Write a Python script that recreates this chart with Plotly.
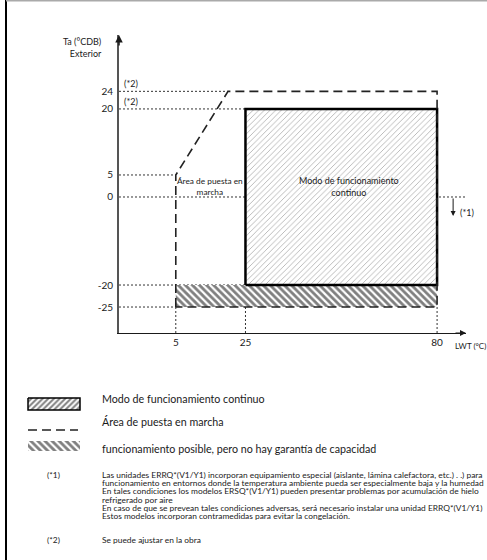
import plotly.graph_objects as go

# ---- operating range data (LWT = leaving water temperature, Ta = outdoor air) ----
lwt_ticks = [5, 25, 80]
ta_ticks = [24, 20, 5, 0, -20, -25]

# continuous operation envelope
cont_lwt = [25, 80, 80, 25, 25]
cont_ta = [-20, -20, 20, 20, -20]

# start-up area outline
start_lwt = [5, 5, 20, 80, 80, 5]
start_ta = [-25, 5, 24, 24, -25, -25]

# operation possible, capacity not guaranteed
band_lwt = [5, 80, 80, 5, 5]
band_ta = [-25, -25, -20, -20, -25]

# guide lines: (Ta level, LWT where the guide stops)
h_guides = [(24, 20), (20, 25), (5, 5), (0, None), (-20, 25), (-25, 5)]
# (LWT position, Ta where the guide stops)
v_guides = [(5, -25), (25, -20), (80, -25)]

W, H = 487, 560
X_MIN, X_MAX = -11.3, 88.3
Y_MIN, Y_MAX = -30.9, 36.8
FONT = "Lato"
INK = "#1a1a1a"


def px(x):
    return x / W


def py(y):
    return 1 - y / H


fig = go.Figure()

# dotted guide lines
gx, gy = [], []
for ta, stop in h_guides:
    gx += [X_MIN, X_MAX if stop is None else stop, None]
    gy += [ta, ta, None]
for lwt, stop in v_guides:
    gx += [lwt, lwt, None]
    gy += [Y_MIN, stop, None]
fig.add_trace(go.Scatter(x=gx, y=gy, mode="lines", hoverinfo="skip",
                         line=dict(color="#333", width=1, dash="2px,2px")))

# hatched band: possible, no capacity guarantee
fig.add_trace(go.Scatter(x=band_lwt, y=band_ta, mode="lines", fill="toself",
                         line=dict(width=0), fillcolor="white",
                         fillpattern=dict(shape="\\", fgcolor="#000", bgcolor="white",
                                          size=5, solidity=0.55)))

# continuous operation rectangle
fig.add_trace(go.Scatter(x=cont_lwt, y=cont_ta, mode="lines", fill="toself",
                         line=dict(color="#000", width=2.5), fillcolor="white",
                         fillpattern=dict(shape="/", fgcolor="#444", bgcolor="white",
                                          size=4, solidity=0.15, fgopacity=0.6)))

# start-up area dashed outline
fig.add_trace(go.Scatter(x=start_lwt, y=start_ta, mode="lines",
                         line=dict(color="#222", width=1.6, dash="9px,5px")))

# ---- legend swatches on a full-page pixel axis pair ----
sw_box = dict(x=[28, 80, 80, 28, 28], y=[398, 398, 410, 410, 398])
sw_band = dict(x=[28, 80, 80, 28, 28], y=[441, 441, 451, 451, 441])
fig.add_trace(go.Scatter(x=sw_box["x"], y=sw_box["y"], xaxis="x2", yaxis="y2",
                         mode="lines", fill="toself", fillcolor="white",
                         line=dict(color="#000", width=1.5),
                         fillpattern=dict(shape="/", fgcolor="#000", bgcolor="white",
                                          size=4, solidity=0.5)))
fig.add_trace(go.Scatter(x=sw_band["x"], y=sw_band["y"], xaxis="x2", yaxis="y2",
                         mode="lines", fill="toself", fillcolor="white",
                         line=dict(width=0),
                         fillpattern=dict(shape="\\", fgcolor="#000", bgcolor="white",
                                          size=5, solidity=0.55)))
fig.add_trace(go.Scatter(x=[28, 78], y=[430, 430], xaxis="x2", yaxis="y2",
                         mode="lines", line=dict(color="#222", width=1.6, dash="9px,5px")))

ann = []


def text(x, y, s, size, xanchor="left", yanchor="middle", align="left", **kw):
    ann.append(dict(x=x, y=y, text=s, showarrow=False, xanchor=xanchor,
                    yanchor=yanchor, align=align,
                    font=dict(family=FONT, size=size, color=INK), **kw))


# axis titles
text(px(104), py(47), "Ta (°CDB)<br>Exterior", 9, xanchor="right", align="right",
     xref="paper", yref="paper")
text(px(453), py(346), "LWT (°C)", 8, xref="paper", yref="paper")

# region labels
text(14.9, 2.4, "Área de puesta en<br>marcha", 8.3, xanchor="center", align="center",
     xref="x", yref="y")
text(54.6, 2.4, "Modo de funcionamiento<br>continuo", 9, xanchor="center", align="center",
     xref="x", yref="y")

# adjustable limits
text(px(122), 24, "(*2)", 9, yanchor="bottom", xref="paper", yref="y")
text(px(122), 20, "(*2)", 9, yanchor="bottom", xref="paper", yref="y")

# low ambient note
ann.append(dict(x=84.6, y=-4.3, ax=84.6, ay=0, axref="x", ayref="y", xref="x", yref="y",
                showarrow=True, arrowhead=2, arrowsize=1, arrowwidth=1, arrowcolor=INK,
                text=""))
text(px(458), py(212), "(*1)", 9, xref="paper", yref="paper")

# axis arrowheads
ann.append(dict(x=px(119), y=py(35), xref="paper", yref="paper", ax=0, ay=12,
                showarrow=True, arrowhead=2, arrowsize=1, arrowwidth=1.5,
                arrowcolor=INK, text=""))
ann.append(dict(x=px(466), y=py(333), xref="paper", yref="paper", ax=-12, ay=0,
                showarrow=True, arrowhead=2, arrowsize=1, arrowwidth=1.2,
                arrowcolor=INK, text=""))

# legend texts
text(px(100), py(398), "Modo de funcionamiento continuo", 10.7, xref="paper", yref="paper")
text(px(100), py(421), "Área de puesta en marcha", 10.7, xref="paper", yref="paper")
text(px(100), py(448), "funcionamiento posible, pero no hay garantía de capacidad", 10.7,
     xref="paper", yref="paper")

# footnotes
note1 = [
    "Las unidades ERRQ*(V1/Y1) incorporan equipamiento especial (aislante, lámina calefactora, etc.) . .) para",
    "funcionamiento en entornos donde la temperatura ambiente pueda ser especialmente baja y la humedad",
    "En tales condiciones los modelos ERSQ*(V1/Y1) pueden presentar problemas por acumulación de hielo",
    "refrigerado por aire",
    "En caso de que se prevean tales condiciones adversas, será necesario instalar una unidad ERRQ*(V1/Y1)",
    "Estos modelos incorporan contramedidas para evitar la congelación.",
]
text(px(45), py(475), "(*1)", 8.4, xref="paper", yref="paper")
for i, line in enumerate(note1):
    text(px(100), py(475 + i * 8.2), line, 8.4, xref="paper", yref="paper")
text(px(45), py(540), "(*2)", 8.4, xref="paper", yref="paper")
text(px(100), py(540), "Se puede ajustar en la obra", 8.4, xref="paper", yref="paper")

fig.update_layout(
    width=W, height=H, margin=dict(l=0, r=0, t=0, b=0), autosize=False,
    paper_bgcolor="white", plot_bgcolor="rgba(0,0,0,0)", showlegend=False,
    font=dict(family=FONT, size=10, color=INK),
    annotations=ann,
    xaxis=dict(domain=[px(119), px(466)], range=[X_MIN, X_MAX], anchor="y",
               tickvals=lwt_ticks, ticktext=[str(v) for v in lwt_ticks],
               showgrid=False, zeroline=False, showline=True, linecolor=INK,
               linewidth=1.2, ticks="", tickfont=dict(family=FONT, size=10, color=INK)),
    yaxis=dict(domain=[py(333), py(35)], range=[Y_MIN, Y_MAX], anchor="x",
               tickvals=ta_ticks, ticktext=[str(v) for v in ta_ticks],
               showgrid=False, zeroline=False, showline=True, linecolor="#555",
               linewidth=1.8, ticks="", ticklabelstandoff=2,
               tickfont=dict(family=FONT, size=10, color=INK)),
    xaxis2=dict(domain=[0, 1], range=[0, W], anchor="y2", visible=False),
    yaxis2=dict(domain=[0, 1], range=[H, 0], anchor="x2", visible=False),
    shapes=[
        dict(type="line", xref="paper", yref="paper", x0=px(6), x1=px(6), y0=0, y1=1,
             line=dict(color="#000", width=2)),
        dict(type="line", xref="paper", yref="paper", x0=px(6), x1=1, y0=py(0.7), y1=py(0.7),
             line=dict(color="#aaa", width=1.5)),
    ],
)

fig.write_html("out.html")
